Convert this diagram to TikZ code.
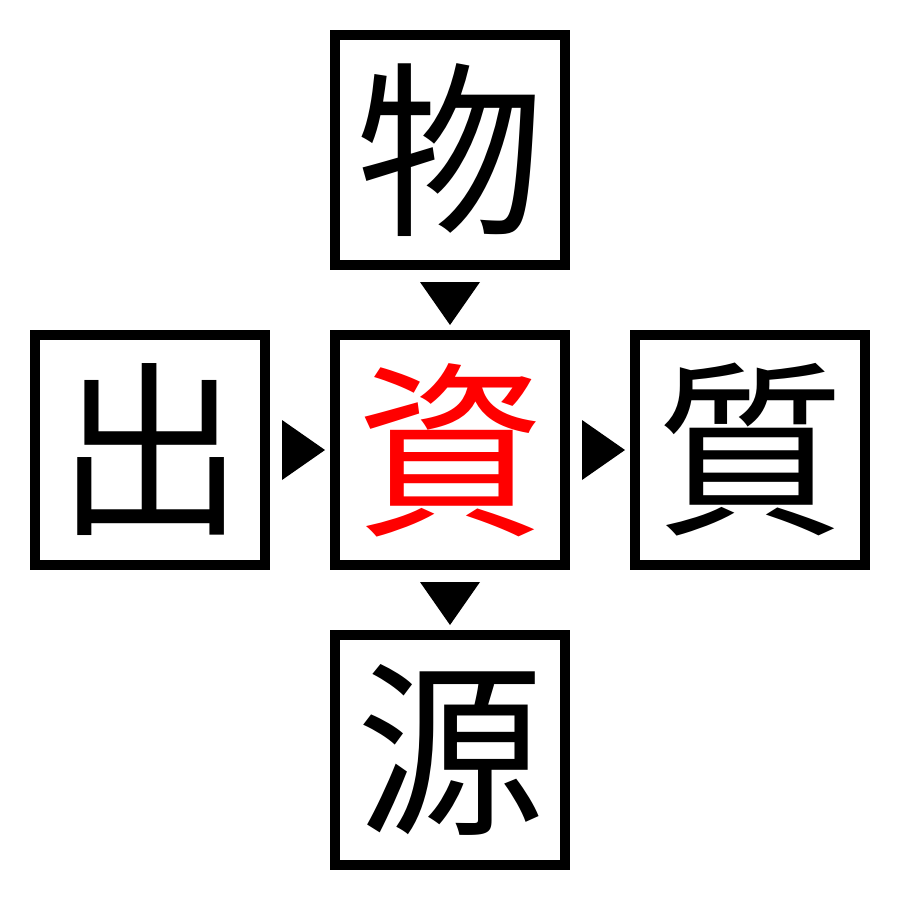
\documentclass[tikz,border=0pt]{standalone}
\usepackage{fontspec}
\newfontfamily\cjk{Noto Sans CJK JP}
\begin{document}
\begin{tikzpicture}[x=1pt,y=-1pt,
  kbox/.style={draw=black,line width=10pt,minimum size=230pt,inner sep=0pt,outer sep=5pt,
    font=\cjk\fontsize{188}{188}\selectfont},
  tri/.style={fill=black}]
\useasboundingbox (0,0) rectangle (900,900);
\node[kbox] (top) at (450,150) {物};
\node[kbox] (left) at (150,450) {出};
\node[kbox,text=red] (mid) at (450,450) {資};
\node[kbox] (right) at (750,450) {質};
\node[kbox] (bot) at (450,750) {源};
\fill[tri] ([xshift=-30pt,yshift=-12pt]top.south) -- ([xshift=30pt,yshift=-12pt]top.south) -- ([yshift=5pt]mid.north) -- cycle;
\fill[tri] ([xshift=-30pt,yshift=-12pt]mid.south) -- ([xshift=30pt,yshift=-12pt]mid.south) -- ([yshift=5pt]bot.north) -- cycle;
\fill[tri] ([xshift=12pt,yshift=30pt]left.east) -- ([xshift=12pt,yshift=-30pt]left.east) -- ([xshift=-5pt]mid.west) -- cycle;
\fill[tri] ([xshift=12pt,yshift=30pt]mid.east) -- ([xshift=12pt,yshift=-30pt]mid.east) -- ([xshift=-5pt]right.west) -- cycle;
\end{tikzpicture}
\end{document}
